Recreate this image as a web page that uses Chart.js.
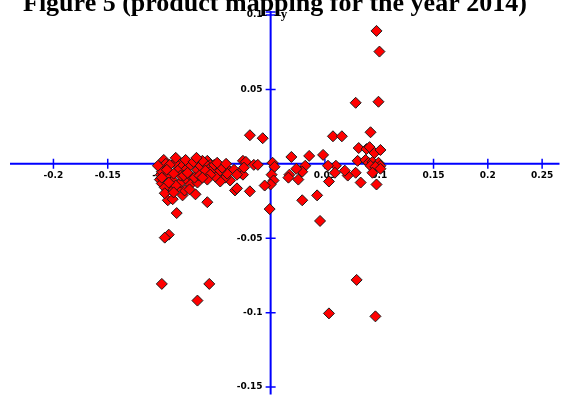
<!DOCTYPE html>
<html>
<head>
<meta charset="utf-8">
<script src="https://cdn.jsdelivr.net/npm/chart.js@4.4.1/dist/chart.umd.min.js"></script>
<style>
  html, body { margin: 0; padding: 0; background: #fff; overflow: hidden; }
  canvas { display: block; }
</style>
</head>
<body>
<canvas id="map" width="566" height="401"></canvas>
<script>
// Product mapping, 2014: coordinates of each product on the two map dimensions
const chartTitle = 'Figure 5 (product mapping for the year 2014)';
const axisName = 'y';

const xTicks = [-0.2, -0.15, -0.1, -0.05, 0.05, 0.1, 0.15, 0.2, 0.25];
const xTickLabels = ['-0.2', '-0.15', '-0.1', '-0.05', '0.05', '0.1', '0.15', '0.2', '0.25'];
const yTicks = [0.1, 0.05, -0.05, -0.1, -0.15];
const yTickLabels = ['0.1', '0.05', '-0.05', '-0.1', '-0.15'];

const mapX = [
  0.0975, 0.1002, 0.0783, 0.0993, 0.0920, 0.0574, 0.0656, -0.0191, -0.0073, 0.0191, 0.0355, 0.0483,
  0.0811, 0.0883, 0.0911, 0.0956, 0.1011, 0.0801, 0.0874, 0.0902, 0.0938, 0.0993, 0.1011, 0.0920,
  0.0965, 0.1011, 0.0938, 0.0829, 0.0975, 0.0783, 0.0710, 0.0683, 0.0601, 0.0528, 0.0592, 0.0537,
  0.0428, 0.0291, 0.0455, 0.0319, 0.0291, 0.0255, 0.0173, 0.0164, 0.0237, 0.0792, 0.0537, 0.0965,
  0.0018, 0.0036, 0.0009, 0.0027, 0.0000, -0.0055, -0.0009, -0.0255, -0.0228, -0.0155, -0.0118, -0.0328,
  -0.0310, -0.0191, -0.0373, -0.0419, -0.0428, -0.0383, -0.0337, -0.0282, -0.0255, -0.0464, -0.0510, -0.0401,
  -0.0583, -0.0865, -0.0947, -0.0902, -0.0692, -0.0811, -0.0792, -0.0856, -0.0947, -0.0920, -0.0984, -0.0993,
  -0.1011, -0.1020, -0.1002, -0.0975, -0.0965, -0.1002, -0.0902, -0.0829, -0.0765, -0.0738, -0.0674, -0.0674,
  -0.0583, -0.0556, -0.0537, -0.0464, -0.0792, -0.0747, -0.0838, -0.0883, -0.0929, -0.0856, -0.0829, -0.0947,
  -0.0738, -0.0647, -0.0610, -0.0601, -0.0628, -0.0519, -0.0446, -0.0556, -0.0310, -0.0701, -0.0874, -0.0975,
  -0.0783, -0.0710, -0.0956, -0.0893, -0.0801, -0.0656, -0.0583, -0.1002, -0.0938, -0.0246, -0.0492, -0.0410,
  -0.0938, -0.0975, -0.1002, -0.0565, -0.0674,
  -0.0874, -0.0683, -0.0765, -0.0628, -0.0747, -0.1038, -0.0893
];
const mapY = [
  0.0893, 0.0754, 0.0410, 0.0417, 0.0212, 0.0185, 0.0185, 0.0192, 0.0172, 0.0046, 0.0053, 0.0060,
  0.0106, 0.0099, 0.0112, 0.0073, 0.0093, 0.0020, 0.0026, 0.0007, 0.0013, 0.0007, -0.0013, -0.0013,
  -0.0020, -0.0033, -0.0060, -0.0126, -0.0139, -0.0060, -0.0079, -0.0046, -0.0013, -0.0013, -0.0060, -0.0119,
  -0.0212, -0.0245, -0.0384, -0.0013, -0.0053, -0.0106, -0.0073, -0.0093, -0.0033, -0.0780, -0.1005, -0.1025,
  0.0007, -0.0020, -0.0073, -0.0112, -0.0139, -0.0146, -0.0304, 0.0020, 0.0013, -0.0007, -0.0007, -0.0179,
  -0.0165, -0.0185, -0.0112, -0.0093, -0.0026, -0.0046, -0.0040, -0.0060, -0.0073, -0.0119, -0.0086, -0.0066,
  -0.0258, -0.0331, -0.0245, -0.0238, -0.0205, -0.0212, -0.0179, -0.0159, -0.0179, -0.0159, 0.0026, -0.0026,
  -0.0073, -0.0106, -0.0132, -0.0159, 0.0000, -0.0053, -0.0112, -0.0126, -0.0112, -0.0139, -0.0126, -0.0040,
  0.0020, -0.0007, -0.0040, -0.0046, -0.0026, -0.0073, -0.0007, 0.0007, -0.0007, -0.0046, -0.0079, -0.0073,
  -0.0007, -0.0013, 0.0007, -0.0046, 0.0020, -0.0007, -0.0026, -0.0073, -0.0073, -0.0093, -0.0146, -0.0198,
  0.0026, 0.0013, -0.0040, -0.0066, -0.0079, -0.0079, -0.0106, -0.0093, -0.0126, -0.0026, 0.0007, 0.0000,
  -0.0476, -0.0496, -0.0807, -0.0807, -0.0919,
  0.0040, 0.0040, -0.0060, -0.0093, -0.0172, -0.0013, -0.0192
];

const AXIS_BLUE = '#0000ff';

// Axes crossing at the origin, with ticks straddling each line
const crossAxes = {
  id: 'crossAxes',
  beforeDatasetsDraw(chart) {
    const { ctx, chartArea: a, scales: { x, y } } = chart;
    const x0 = x.getPixelForValue(0);
    const y0 = y.getPixelForValue(0);
    ctx.save();
    ctx.strokeStyle = AXIS_BLUE;
    ctx.lineWidth = 2;
    ctx.beginPath();
    ctx.moveTo(a.left, y0); ctx.lineTo(a.right, y0);
    ctx.moveTo(x0, a.top - 1); ctx.lineTo(x0, a.bottom);
    ctx.stroke();

    ctx.lineWidth = 1.5;
    ctx.beginPath();
    xTicks.forEach(v => {
      const p = x.getPixelForValue(v);
      ctx.moveTo(p, y0 - 5); ctx.lineTo(p, y0 + 5);
    });
    yTicks.forEach(v => {
      const p = y.getPixelForValue(v);
      ctx.moveTo(x0 - 5, p); ctx.lineTo(x0 + 5, p);
    });
    ctx.moveTo(x0 - 5, a.top); ctx.lineTo(x0 + 5, a.top);
    ctx.stroke();

    ctx.fillStyle = '#000';
    ctx.font = 'bold 9px "DejaVu Sans"';
    ctx.textAlign = 'center';
    ctx.textBaseline = 'top';
    xTicks.forEach((v, i) => ctx.fillText(xTickLabels[i], x.getPixelForValue(v), y0 + 7));
    ctx.textAlign = 'right';
    ctx.textBaseline = 'middle';
    yTicks.forEach((v, i) => ctx.fillText(yTickLabels[i], x0 - 8, y.getPixelForValue(v)));

    ctx.font = 'bold 13px "Liberation Serif"';
    ctx.textAlign = 'left';
    ctx.textBaseline = 'alphabetic';
    ctx.fillText(axisName, x0 + 10, a.top + 6);
    ctx.restore();
  }
};

// Heading sits at the very top edge of the figure
const heading = {
  id: 'heading',
  afterDraw(chart) {
    const { ctx } = chart;
    ctx.save();
    ctx.fillStyle = '#000';
    ctx.font = 'bold 26px "Liberation Serif"';
    ctx.textAlign = 'left';
    ctx.textBaseline = 'alphabetic';
    ctx.fillText(chartTitle, 23, 11);
    ctx.restore();
  }
};

new Chart(document.getElementById('map'), {
  type: 'scatter',
  data: {
    datasets: [{
      data: mapX.map((v, i) => ({ x: v, y: mapY[i] })),
      pointStyle: 'rectRot',
      pointRadius: 5.5,
      pointHoverRadius: 5.5,
      backgroundColor: '#ff0000',
      borderColor: '#1a1a1a',
      borderWidth: 1,
      clip: false
    }]
  },
  options: {
    responsive: false,
    animation: false,
    devicePixelRatio: 1,
    layout: { padding: { left: 10, right: 0, top: 12, bottom: 0 } },
    plugins: { legend: { display: false }, tooltip: { enabled: false }, title: { display: false } },
    scales: {
      x: { type: 'linear', min: -0.24, max: 0.266, display: false },
      y: { type: 'linear', min: -0.155, max: 0.102, display: false }
    }
  },
  plugins: [crossAxes, heading]
});
</script>
</body>
</html>
